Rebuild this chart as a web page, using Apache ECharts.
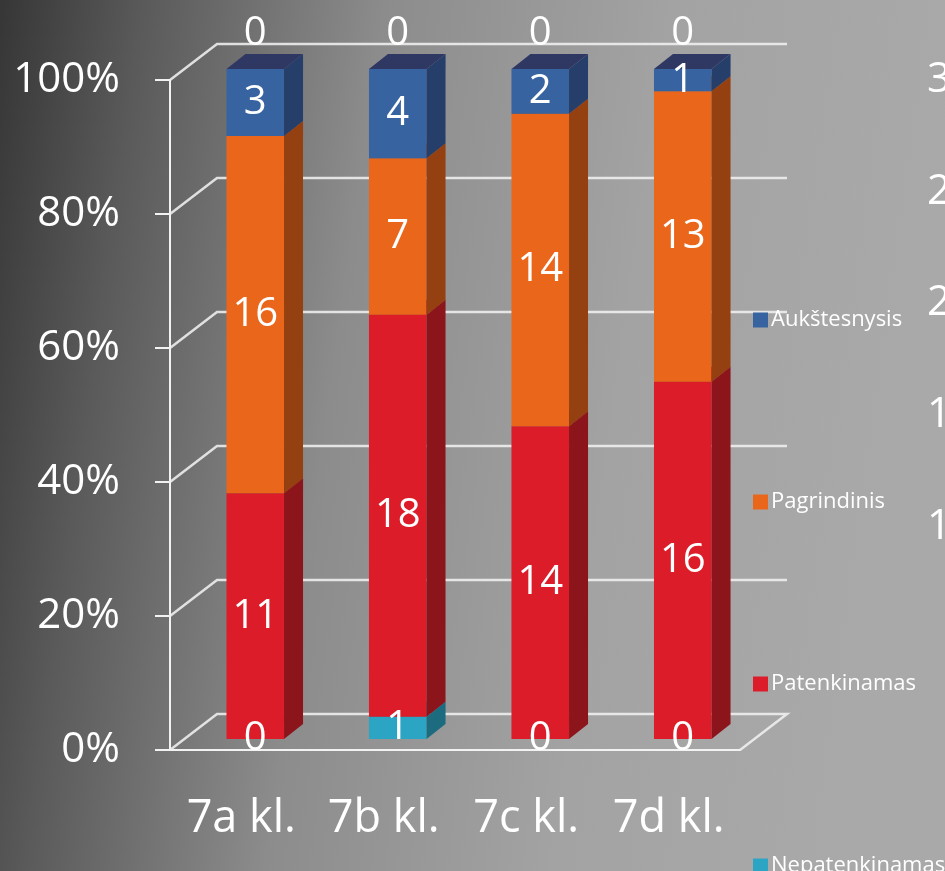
<!DOCTYPE html>
<html>
<head>
<meta charset="utf-8">
<style>
  html, body { margin: 0; padding: 0; }
  #chart { width: 945px; height: 871px; }
</style>
<script src="https://cdn.jsdelivr.net/npm/echarts@6/dist/echarts.min.js"></script>
</head>
<body>
<div id="chart"></div>
<script>
// categories and counts per level
const classes = ['7a kl.', '7b kl.', '7c kl.', '7d kl.']
const nepatenkinamas = [0, 1, 0, 0]
const patenkinamas = [11, 18, 14, 16]
const pagrindinis = [16, 7, 14, 13]
const aukstesnysis = [3, 4, 2, 1]
const virsus = [0, 0, 0, 0] // the extra zero labels above the bars

// axis ticks
const yTicks = [0, 20, 40, 60, 80, 100]
const rightTicks = [0, 5, 10, 15, 20, 25, 30]

const FONT = '"Open Sans", sans-serif'
const BAR_FRACTION = 0.404
const FRONT_SHIFT = [14, -11]
const BAR_DEPTH = [19, -15]
const WALL_DEPTH = [47, -36]

const levels = [
  { name: 'Nepatenkinamas', data: nepatenkinamas, color: '#2ca4c4', side: '#1d6b7f', top: '#248aa5' },
  { name: 'Patenkinamas', data: patenkinamas, color: '#dc1c28', side: '#8c141b', top: '#a8161f' },
  { name: 'Pagrindinis', data: pagrindinis, color: '#ea661b', side: '#944010', top: '#b34f14' },
  { name: 'Aukštesnysis', data: aukstesnysis, color: '#3763a1', side: '#253e6a', top: '#2f3862' },
  { name: 'virsus', data: virsus, color: '#3763a1', side: '#253e6a', top: '#2f3862', labelDy: -35 },
]

const totals = classes.map((_, i) => levels.reduce((s, l) => s + l.data[i], 0))

function renderSegment(params, api, level) {
  const i = api.value(0)
  const band = api.size([1, 0])[0]
  const w = band * BAR_FRACTION
  const bottom = api.coord([i, api.value(1)])
  const top = api.coord([i, api.value(2)])
  const x0 = bottom[0] - w / 2 + FRONT_SHIFT[0]
  const yb = bottom[1] + FRONT_SHIFT[1]
  const yt = top[1] + FRONT_SHIFT[1]
  const [dx, dy] = BAR_DEPTH
  const children = []
  if (yb - yt > 0.5) {
    children.push({
      type: 'rect',
      shape: { x: x0, y: yt, width: w, height: yb - yt },
      style: { fill: level.color },
    })
    children.push({
      type: 'polygon',
      shape: { points: [[x0 + w, yt], [x0 + w + dx, yt + dy], [x0 + w + dx, yb + dy], [x0 + w, yb]] },
      style: { fill: level.side },
    })
    children.push({
      type: 'polygon',
      shape: { points: [[x0, yt], [x0 + w, yt], [x0 + w + dx, yt + dy], [x0 + dx, yt + dy]] },
      style: { fill: level.top },
    })
  }
  children.push({
    type: 'text',
    z2: 100,
    style: {
      text: String(api.value(3)),
      x: x0 + w / 2,
      y: (yt + yb) / 2 + (level.labelDy || 0),
      fill: '#fff',
      font: '40px ' + FONT,
      align: 'center',
      verticalAlign: 'middle',
    },
  })
  return { type: 'group', children }
}

function renderWall(params, api) {
  const cs = params.coordSys
  const v = api.value(1)
  const y = api.coord([0, v])[1]
  const left = cs.x
  const right = cs.x + cs.width
  const [dx, dy] = WALL_DEPTH
  const pts = [[left, y], [left + dx, y + dy], [right + dx, y + dy]]
  if (v === 0) pts.push([right, y])
  return {
    type: 'polyline',
    shape: { points: pts },
    style: { stroke: 'rgba(240,240,240,0.88)', lineWidth: 2.5, fill: null },
  }
}

const base = classes.map(() => 0)
const barSeries = levels.map(level => {
  const data = level.data.map((v, i) => {
    const lo = base[i] / totals[i] * 100
    base[i] += v
    return [i, lo, base[i] / totals[i] * 100, v]
  })
  return {
    name: level.name,
    type: 'custom',
    z: 3,
    itemStyle: { color: level.color },
    data,
    renderItem: (params, api) => renderSegment(params, api, level),
  }
})

const chart = echarts.init(document.getElementById('chart'))

chart.setOption({
  animation: false,
  backgroundColor: new echarts.graphic.LinearGradient(0, 0, 1, 0.15, [
    { offset: 0, color: '#363636' },
    { offset: 0.15, color: '#5a5a5a' },
    { offset: 0.4, color: '#8c8c8c' },
    { offset: 0.7, color: '#a3a3a3' },
    { offset: 1, color: '#a9a9a9' },
  ]),
  legend: {
    orient: 'vertical',
    left: 748,
    top: 304,
    height: 800,
    itemWidth: 15,
    itemHeight: 15,
    itemGap: 160,
    icon: 'rect',
    data: ['Aukštesnysis', 'Pagrindinis', 'Patenkinamas', 'Nepatenkinamas'],
    textStyle: { color: '#fff', fontSize: 22, fontFamily: FONT, padding: [0, 0, 0, -2] },
  },
  grid: { left: 170, right: 205, top: 80, bottom: 121, outerBoundsMode: 'none', containLabel: false },
  xAxis: {
    type: 'category',
    data: classes,
    axisLine: { lineStyle: { color: '#f2f2f2', width: 2 } },
    axisTick: { length: 17, lineStyle: { color: '#f2f2f2', width: 2 } },
    axisLabel: { color: '#fff', fontSize: 45, fontFamily: FONT, margin: 47, interval: 0 },
  },
  yAxis: [
    {
      type: 'value',
      min: yTicks[0],
      max: yTicks[yTicks.length - 1],
      interval: yTicks[1] - yTicks[0],
      axisLine: { show: true, lineStyle: { color: '#f2f2f2', width: 2 } },
      axisTick: { show: true, length: 15, lineStyle: { color: '#f2f2f2', width: 2 } },
      splitLine: { show: false },
      axisLabel: { color: '#fff', fontSize: 42, fontFamily: FONT, margin: 50, formatter: '{value}%' },
    },
    {
      type: 'value',
      position: 'right',
      min: rightTicks[0],
      max: rightTicks[rightTicks.length - 1],
      interval: rightTicks[1] - rightTicks[0],
      axisLine: { show: false },
      axisTick: { show: false },
      splitLine: { show: false },
      axisLabel: { color: '#fff', fontSize: 42, fontFamily: FONT, margin: 235, align: 'right' },
    },
  ],
  series: [
    {
      name: 'walls',
      type: 'custom',
      z: 1,
      silent: true,
      data: yTicks.map(v => [0, v]),
      renderItem: renderWall,
    },
    ...barSeries,
  ],
})
</script>
</body>
</html>
